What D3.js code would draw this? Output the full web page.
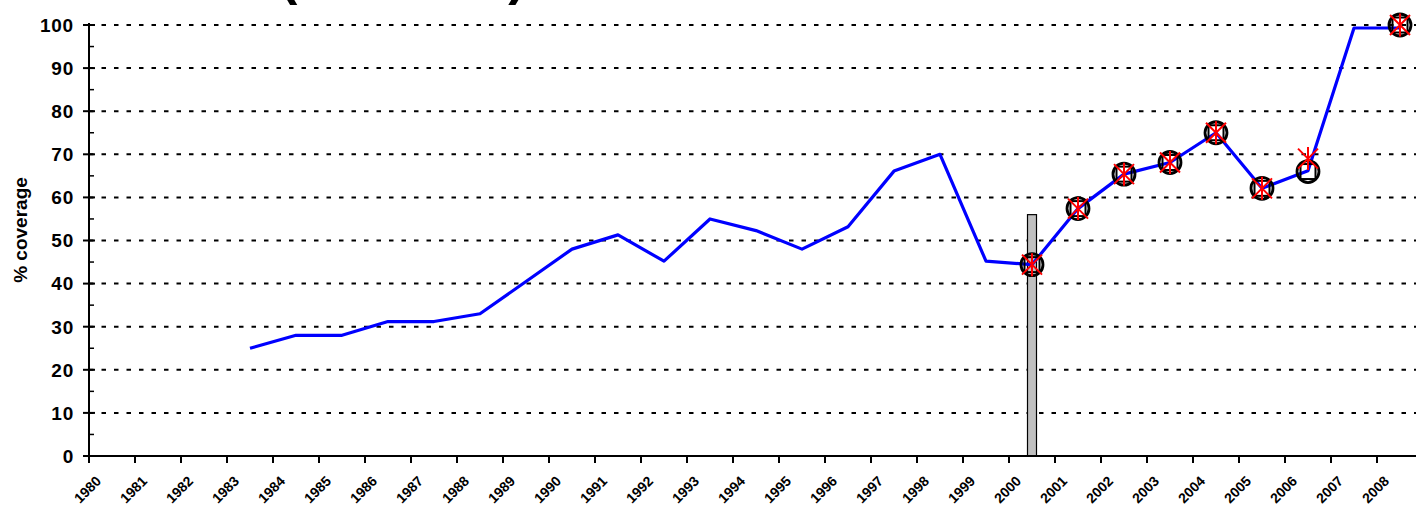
<!DOCTYPE html>
<html>
<head>
<meta charset="utf-8">
<script src="https://cdn.jsdelivr.net/npm/d3@7"></script>
<style>
  body { margin: 0; background: #fff; }
  svg { display: block; font-family: Arial, "Liberation Sans", sans-serif; }
</style>
</head>
<body>
<svg id="chart" width="1416" height="509"></svg>
<script>
// data
var years = d3.range(1980, 2009);
var lineYears = d3.range(1983, 2009);
var lineVals = [25, 28, 28, 31.2, 31.2, 33, 40.5, 48, 51.3, 45.2, 55, 52.3, 48, 53.2, 66.1, 70, 45.2, 44.4, 57.4, 65.4, 68.1, 75, 62.1, 66.2, 99.3, 99.3];
var markYears = [2000, 2001, 2002, 2003, 2004, 2005, 2006, 2008];
var circleVals = [44.4, 57.4, 65.4, 68.1, 75, 62.1, 66, 100];
var squareVals = [44.4, 57.4, 65.4, 68.1, 75, 62.1, 66, 100];
var starVals = [44.4, 57.4, 65.4, 68.1, 75, 62.1, 69, 100];
var surveyYears = [2000];
var surveyVals = [56];
var yTicks = d3.range(0, 101, 10);
var yMinor = d3.range(5, 100, 10);

var svg = d3.select('#chart');
var w = 1416, h = 509;

var x = d3.scaleBand()
    .domain(years)
    .range([89, 89 + 46 * years.length]);

var y = d3.scaleLinear()
    .domain([0, 100])
    .range([456, 25]);

var cx = function(yr){ return x(yr) + x.bandwidth() / 2; };

// title (mostly above the visible area)
var title = svg.append('text')
    .attr('y', -6)
    .attr('font-size', 52)
    .attr('font-weight', 'bold')
    .text('DTP3 (WUENIC)');
var pre = title.node().getSubStringLength(0, 5);
title.attr('x', 293 - 0.25 * 52 - pre);

// gridlines
svg.append('g').selectAll('line')
    .data(yTicks.filter(function(d){ return d > 0; }))
    .enter().append('line')
    .attr('x1', 89).attr('x2', w)
    .attr('y1', function(d){ return y(d); })
    .attr('y2', function(d){ return y(d); })
    .attr('stroke', '#000')
    .attr('stroke-width', 2)
    .style('stroke-dasharray', ('4.5, 8'));

// survey bar
svg.append('g').selectAll('rect')
    .data(surveyYears)
    .enter().append('rect')
    .attr('x', function(d){ return cx(d) - 4.5; })
    .attr('width', 9)
    .attr('y', function(d, i){ return y(surveyVals[i]); })
    .attr('height', function(d, i){ return y(0) - y(surveyVals[i]); })
    .attr('fill', '#c0c0c0')
    .attr('stroke', '#000')
    .attr('stroke-width', 1.2);

// y axis
var yAxis = svg.append('g');
yAxis.append('line')
    .attr('x1', 89).attr('x2', 89)
    .attr('y1', y(100) - 2).attr('y2', y(0))
    .attr('stroke', '#000').attr('stroke-width', 2);
yAxis.selectAll('.major').data(yTicks).enter().append('line')
    .attr('class', 'major')
    .attr('x1', 83).attr('x2', 95)
    .attr('y1', function(d){ return y(d); })
    .attr('y2', function(d){ return y(d); })
    .attr('stroke', '#000').attr('stroke-width', 2);
yAxis.selectAll('.minor').data(yMinor).enter().append('line')
    .attr('class', 'minor')
    .attr('x1', 89).attr('x2', 94)
    .attr('y1', function(d){ return y(d); })
    .attr('y2', function(d){ return y(d); })
    .attr('stroke', '#000').attr('stroke-width', 1.5);
yAxis.selectAll('text').data(yTicks).enter().append('text')
    .attr('x', 74)
    .attr('y', function(d){ return y(d); })
    .attr('dy', '0.36em')
    .attr('text-anchor', 'end')
    .attr('font-size', 19)
    .attr('font-weight', 'bold')
    .attr('letter-spacing', 0.8)
    .text(function(d){ return d; });

svg.append('text')
    .attr('transform', 'translate(27,230) rotate(-90)')
    .attr('text-anchor', 'middle')
    .attr('font-size', 19)
    .attr('font-weight', 'bold')
    .text('% coverage');

// x axis
var xAxis = svg.append('g');
xAxis.append('line')
    .attr('x1', 88).attr('x2', w)
    .attr('y1', y(0)).attr('y2', y(0))
    .attr('stroke', '#000').attr('stroke-width', 2);
xAxis.selectAll('.tick').data(years).enter().append('line')
    .attr('class', 'tick')
    .attr('x1', function(d){ return x(d); })
    .attr('x2', function(d){ return x(d); })
    .attr('y1', y(0)).attr('y2', y(0) + 7)
    .attr('stroke', '#000').attr('stroke-width', 2);
xAxis.selectAll('text').data(years).enter().append('text')
    .attr('transform', function(d){ return 'translate(' + (x(d) + 13) + ',482) rotate(-45)'; })
    .attr('text-anchor', 'end')
    .attr('font-size', 14)
    .attr('font-weight', 'bold')
    .text(function(d){ return d; });

// reported line
var line = d3.line()
    .x(function(d){ return cx(d[0]); })
    .y(function(d){ return y(d[1]); });
svg.append('path')
    .datum(lineYears.map(function(yr, i){ return [yr, lineVals[i]]; }))
    .attr('d', line)
    .attr('fill', 'none')
    .attr('stroke', '#0000ff')
    .attr('stroke-width', 3.2)
    .attr('stroke-linejoin', 'round');

// markers
svg.append('g').selectAll('circle')
    .data(markYears)
    .enter().append('circle')
    .attr('cx', function(d){ return cx(d); })
    .attr('cy', function(d, i){ return y(circleVals[i]); })
    .attr('r', 11)
    .attr('fill', 'none')
    .attr('stroke', '#000')
    .attr('stroke-width', 2.8);

svg.append('g').selectAll('rect')
    .data(markYears)
    .enter().append('rect')
    .attr('x', function(d){ return cx(d) - 7.5; })
    .attr('y', function(d, i){ return y(squareVals[i]) - 7.5; })
    .attr('width', 15).attr('height', 15)
    .attr('fill', 'none')
    .attr('stroke', '#000')
    .attr('stroke-width', 2);

var star = svg.append('g').selectAll('path')
    .data(markYears)
    .enter().append('path')
    .attr('transform', function(d, i){ return 'translate(' + cx(d) + ',' + y(starVals[i]) + ')'; })
    .attr('d', 'M-10,-10L10,10M-10,10L10,-10M0,-11.5L0,11.5')
    .attr('fill', 'none')
    .attr('stroke', '#ff0000')
    .attr('stroke-width', 2);
</script>
</body>
</html>
